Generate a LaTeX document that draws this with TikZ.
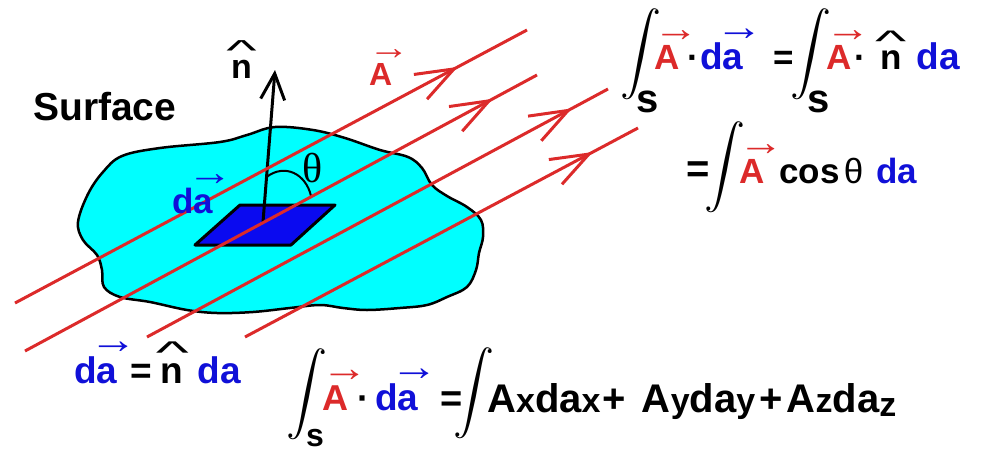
\documentclass[tikz,border=0pt]{standalone}
\usepackage{fontspec}
\usepackage{graphicx}
\usepackage{amsmath}
\usepackage{unicode-math}
\setmainfont{Liberation Sans}
\setmathfont{Latin Modern Math}
\newfontfamily\thetafont{Liberation Serif}
\usetikzlibrary{arrows.meta,decorations.markings}
\definecolor{fieldred}{HTML}{DC2A2A}
\definecolor{areablue}{HTML}{1010D8}
\definecolor{patchblue}{HTML}{0A0AF0}
\definecolor{surfcyan}{HTML}{00FFFF}
\newcommand\vecarr[1]{#1\llap{\raisebox{0.8em}{\scalebox{1.3}[1.1]{→}}\kern-0.56em}}
\newcommand\nhat{\leavevmode\ooalign{n\cr\hss\makebox[0pt]{\raisebox{0.52em}{\mdseries\scalebox{1.9}[0.85]{\textasciicircum}}}\hss\cr}}
\newcommand\sub[1]{{\fontsize{34}{34}\selectfont #1}}

\begin{document}
\begin{tikzpicture}[x=1pt,y=-1pt,
 eqtext/.style={inner sep=0,anchor=base west,font=\bfseries\fontsize{35}{40}\selectfont},
 intsign/.style={inner sep=0,font=\fontsize{41}{48}\selectfont},
 fieldline/.style={fieldred,line width=3pt,postaction={decorate},
  decoration={markings,mark=at position #1 with {\arrow{Straight Barb[length=38pt,width=28pt,line width=3pt]}}}},
 surface/.style={draw=black,line width=2.5pt,fill=surfcyan},
 patch/.style={draw=black,line width=3pt,fill=patchblue,line join=round},
 normal/.style={-{Straight Barb[length=26pt,width=24pt]},line width=3pt,line cap=round}
]
\useasboundingbox (0,0) rectangle (984,452);
\draw[surface] plot[smooth cycle,tension=0.6] coordinates {
 (78,222) (88,194) (103,172) (122,156) (160,148) (220,142) (247,135) (275,127)
 (313,130) (345,138) (380,150) (408,157) (422,168) (432,185) (447,196) (467,207)
 (481,220) (483,237) (479,253) (476,270) (467,287) (447,297) (427,305) (400,308)
 (367,310) (343,308) (320,305) (290,308) (253,312) (217,313) (187,310) (150,302)
 (120,297) (104,287) (102,270) (97,255) (83,240)};
\draw[patch] (240,205) -- (335,205) -- (291,245) -- (195,245) -- cycle;
\coordinate (pc) at (263,222);
\coordinate (ntip) at (275,70);
\coordinate (arcA) at (266.5,177);
\coordinate (arcB) at (311,196);
\draw[line width=2pt] (arcA) .. controls (285,163) and (306,174) .. (arcB);
\draw[normal] (pc) -- (ntip);
\coordinate (f1s) at (15,303);  \coordinate (f1e) at (527,30);
\coordinate (f2s) at (25,351);  \coordinate (f2e) at (537,75);
\coordinate (f3s) at (147,337); \coordinate (f3e) at (608,89);
\coordinate (f4s) at (245,337); \coordinate (f4e) at (638,128);
\draw[fieldline=0.865] (f1s) -- (f1e);
\draw[fieldline=0.914] (f2s) -- (f2e);
\draw[fieldline=0.922] (f3s) -- (f3e);
\draw[fieldline=0.885] (f4s) -- (f4e);
\node[eqtext,font=\bfseries\fontsize{39}{44}\selectfont] (surf) at (33,120) {Surface};
\node[eqtext,font=\bfseries\fontsize{34}{40}\selectfont] (nlabel) at (231,78) {\nhat};
\node[eqtext,font=\bfseries\fontsize{32}{38}\selectfont,text=fieldred] (Alabel) at (369,85) {\vecarr{A}};
\node[eqtext,font=\bfseries\fontsize{35}{40}\selectfont,text=areablue] (dalabel) at (172,213) {d\vecarr{a}};
\node[inner sep=0,anchor=base,font=\thetafont\fontsize{42}{48}\selectfont] (theta) at (313,182) {θ};
\node[intsign] (int1) at (641,54) {$\displaystyle\int$};
\node[eqtext,font=\bfseries\fontsize{40}{44}\selectfont] (s1) at (636,112) {s};
\node[eqtext] (lhs1) at (654,70) {\textcolor{fieldred}{\vecarr{A}}\kern8pt·\kern1pt{\fontsize{37}{40}\selectfont\textcolor{areablue}{d\vecarr{a}}}};
\node[eqtext] (eq1) at (773,69) {=};
\node[intsign] (int2) at (811,54) {$\displaystyle\int$};
\node[eqtext,font=\bfseries\fontsize{40}{44}\selectfont] (s2) at (807,112) {s};
\node[eqtext] (rhs1) at (826,70) {\textcolor{fieldred}{\vecarr{A}}\kern3pt·\kern14pt\nhat\kern15pt{\fontsize{37}{40}\selectfont\textcolor{areablue}{da}}};
\node[eqtext,font=\bfseries\fontsize{40}{44}\selectfont] (eq2) at (686,182) {=};
\node[intsign] (int3) at (725,167) {$\displaystyle\int$};
\node[eqtext] (rhs2) at (739,183) {\textcolor{fieldred}{\vecarr{A}}\kern15pt cos\kern4pt{\mdseries θ}\kern13pt\textcolor{areablue}{da}};
\node[eqtext,font=\bfseries\fontsize{37}{40}\selectfont] (daeq) at (74,383) {\textcolor{areablue}{d\vecarr{a}}\kern13pt=\kern9pt\nhat\kern14pt\textcolor{areablue}{da}};
\node[intsign] (int4) at (307,394) {$\displaystyle\int$};
\node[eqtext,font=\bfseries\fontsize{32}{36}\selectfont] (s3) at (306,446) {s};
\node[eqtext,font=\bfseries\fontsize{36}{40}\selectfont] (lhs4) at (322,410) {\textcolor{fieldred}{\vecarr{A}}\kern9pt·\kern6pt{\fontsize{37}{40}\selectfont\textcolor{areablue}{d\vecarr{a}}}};
\node[eqtext,font=\bfseries\fontsize{38}{42}\selectfont] (eq4) at (440,411) {=};
\node[intsign] (int5) at (474,393) {$\displaystyle\int$};
\node[eqtext,font=\bfseries\fontsize{40}{44}\selectfont] (rhs4) at (487,412) {A\sub{x}da\sub{x}\kern2pt+\kern16pt A\sub{y}da\sub{y}\kern4pt+\kern4pt A\sub{z}da\raisebox{-4pt}{\sub{z}}};
\end{tikzpicture}
\end{document}
